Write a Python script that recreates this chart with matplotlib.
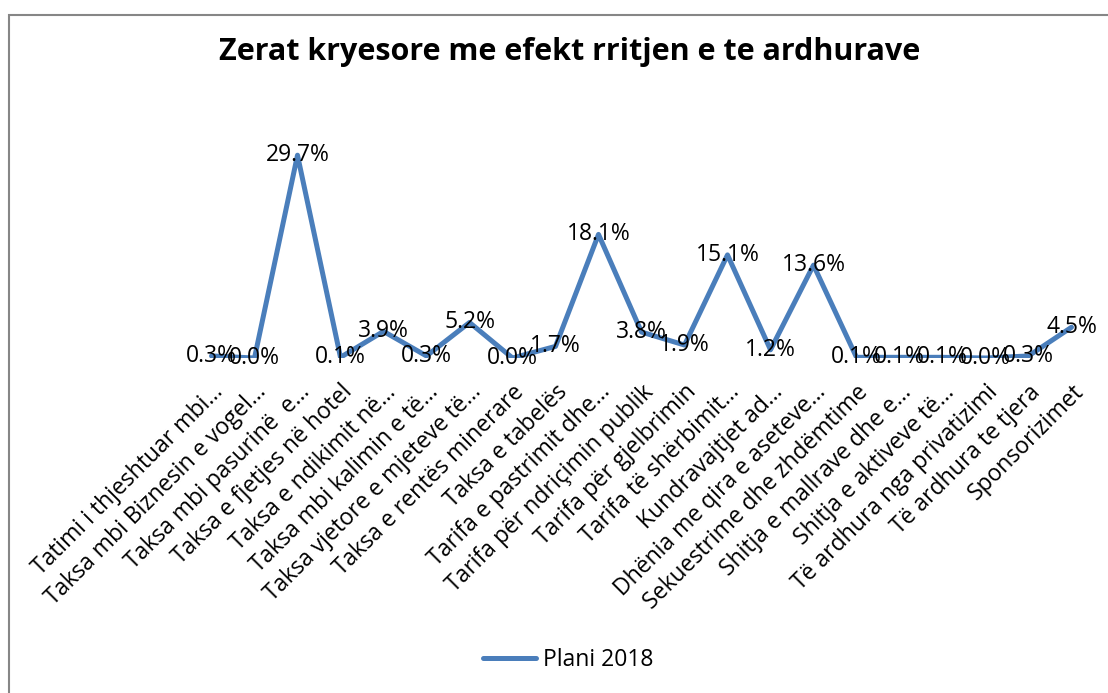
import matplotlib
matplotlib.use("Agg")
import matplotlib.pyplot as plt
from matplotlib.patches import Rectangle
from matplotlib.lines import Line2D

plt.rcParams['font.family'] = ['Open Sans', 'DejaVu Sans']

categories = [
    "Tatimi i thjeshtuar mbi…",
    "Taksa mbi Biznesin e vogel…",
    "Taksa mbi pasurinë  e…",
    "Taksa e fjetjes në hotel",
    "Taksa e ndikimit në…",
    "Taksa mbi kalimin e të…",
    "Taksa vjetore e mjeteve të…",
    "Taksa e rentës minerare",
    "Taksa e tabelës",
    "Tarifa e pastrimit dhe…",
    "Tarifa për ndriçimin publik",
    "Tarifa për gjelbrimin",
    "Tarifa të shërbimit…",
    "Kundravajtjet ad…",
    "Dhënia me qira e aseteve…",
    "Sekuestrime dhe zhdëmtime",
    "Shitja e mallrave dhe e…",
    "Shitja e aktiveve të…",
    "Të ardhura nga privatizimi",
    "Të ardhura te tjera",
    "Sponsorizimet",
]
plani_2018 = [0.3, 0.0, 29.7, 0.1, 3.9, 0.3, 5.2, 0.0, 1.7, 18.1, 3.8, 1.9,
              15.1, 1.2, 13.6, 0.1, 0.1, 0.1, 0.0, 0.3, 4.5]
series_name = "Plani 2018"
title = "Zerat kryesore me efekt rritjen e te ardhurave"

W, H = 1108, 693
fig = plt.figure(figsize=(W / 100, H / 100), dpi=100)
fig.patch.set_facecolor('white')

# chart border
fig.patches.append(Rectangle((9 / W, -0.05), 1.2, (H - 15) / H + 0.05,
                             transform=fig.transFigure, fill=False,
                             edgecolor='#868686', linewidth=1.5))

left_px, right_px = 190, 1093
top_px, bottom_px = 119, 358
ax = fig.add_axes([left_px / W, (H - bottom_px) / H,
                   (right_px - left_px) / W, (bottom_px - top_px) / H])
ax.set_facecolor('none')

x = list(range(len(categories)))
color = '#4A7EBB'
ax.plot(x, plani_2018, color=color, linewidth=3.6, solid_capstyle='round',
        solid_joinstyle='round', zorder=2)
for xi, v in zip(x, plani_2018):
    ax.text(xi, v, f"{v:.1f}%", ha='center', va='center', fontsize=16.5,
            color='black', zorder=3)

ax.set_xlim(-0.5, len(categories) - 0.5)
ax.set_ylim(0, 35)
ax.set_xticks(x)
ax.set_xticklabels(categories, rotation=45, ha='right', rotation_mode='anchor',
                   fontsize=16.5)
ax.tick_params(axis='x', length=0, pad=16)
ax.set_yticks([])
for s in ax.spines.values():
    s.set_visible(False)

fig.text(570 / W, 1 - 52 / H, title, ha='center', va='center',
         fontsize=22, fontweight='bold')

# legend
handle = Line2D([], [], color=color, linewidth=3.6, solid_capstyle='round')
fig.legend([handle], [series_name], loc='center', bbox_to_anchor=(568 / W, 1 - 660 / H),
           frameon=False, fontsize=16.5, handlelength=2.3, handletextpad=0.3)

fig.savefig('out.png', dpi=100)
